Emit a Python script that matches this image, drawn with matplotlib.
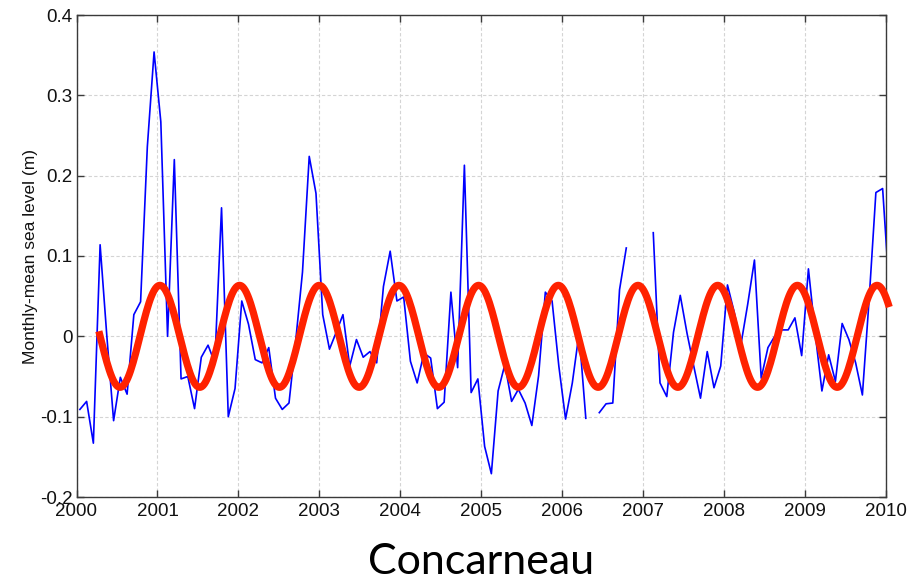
import matplotlib
matplotlib.use("Agg")
import matplotlib.pyplot as plt
import numpy as np

# Monthly-mean sea level at Concarneau, Jan 2000 .. Jan 2010 (m), NaN = missing month
sea_level = [
    -0.091, -0.081, -0.133, 0.114, 0.000, -0.105, -0.051, -0.072, 0.027, 0.043, 0.236, 0.354,   # 2000
    0.267, 0.000, 0.220, -0.053, -0.050, -0.090, -0.026, -0.011, -0.033, 0.160, -0.100, -0.065, # 2001
    0.044, 0.015, -0.029, -0.033, -0.014, -0.077, -0.091, -0.083, -0.005, 0.080, 0.224, 0.178,  # 2002
    0.027, -0.016, 0.005, 0.027, -0.037, -0.004, -0.026, -0.019, -0.033, 0.062, 0.106, 0.044,   # 2003
    0.049, -0.031, -0.058, -0.021, -0.027, -0.090, -0.082, 0.055, -0.039, 0.213, -0.070, -0.053, # 2004
    -0.137, -0.171, -0.068, -0.035, -0.081, -0.066, -0.083, -0.111, -0.049, 0.055, 0.044, -0.037, # 2005
    -0.103, -0.058, 0.004, -0.102, np.nan, -0.095, -0.084, -0.083, 0.058, 0.110, np.nan, np.nan, # 2006
    np.nan, 0.129, -0.058, -0.075, 0.005, 0.051, 0.004, -0.037, -0.077, -0.019, -0.064, -0.037, # 2007
    0.064, 0.030, -0.010, 0.040, 0.095, -0.052, -0.014, 0.000, 0.008, 0.008, 0.023, -0.024,     # 2008
    0.084, 0.004, -0.068, -0.023, -0.056, 0.016, -0.004, -0.033, -0.073, 0.046, 0.179, 0.184,   # 2009
    0.056,                                                                                      # 2010
]
months = np.arange(len(sea_level))
t_month = 2000 + (months + 0.5) / 12

# Fitted annual cycle
fit_amp = 0.0635
fit_period = 0.9844      # years between successive peaks
fit_peak = 2001.03       # time of first peak
fit_start, fit_end = 2000.276, 2010.04

years = list(range(2000, 2011))
yticks = [-0.2, -0.1, 0, 0.1, 0.2, 0.3, 0.4]
ytick_labels = ["-0.2", "-0.1", "0", "0.1", "0.2", "0.3", "0.4"]

plt.rcParams["font.family"] = ["Liberation Sans", "DejaVu Sans"]

fig = plt.figure(figsize=(9.16, 5.81), dpi=100, facecolor="white")
ax = fig.add_axes([76.5 / 916, 1 - 497 / 581, (886 - 76.5) / 916, (497 - 15) / 581])

ax.plot(t_month, sea_level, color="#0000FF", linewidth=1.2, zorder=3)

t_fit = np.linspace(fit_start, fit_end, 600)
y_fit = fit_amp * np.cos(2 * np.pi * (t_fit - fit_peak) / fit_period)
ax.plot(t_fit, y_fit, color="#FF2200", linewidth=5.2, solid_capstyle="butt",
        zorder=4, clip_on=False)

ax.set_xlim(2000, 2010)
ax.set_ylim(-0.2, 0.4)
ax.set_xticks(years)
ax.set_xticklabels([str(y) for y in years])
ax.set_yticks(yticks)
ax.set_yticklabels(ytick_labels)

ax.grid(True, color="#D4D4D4", linestyle=(0, (3, 2)), linewidth=0.8)
ax.set_axisbelow(True)

for side in ax.spines.values():
    side.set_color("#3A3A3A")
    side.set_linewidth(1.0)

ax.tick_params(direction="in", length=5, width=1, color="#3A3A3A",
               top=True, right=True, labelsize=13.5, labelcolor="#111111", pad=3)
ax.tick_params(axis="x", pad=4)

ax.set_ylabel("Monthly-mean sea level (m)", fontsize=12.5, color="#111111", labelpad=1)

# station name under the chart, baseline ~573 px from the top
fig.text(0.525, 1 - 574 / 581, "Concarneau", fontsize=31, color="black",
         ha="center", va="baseline", family=["Lato", "DejaVu Sans"])

fig.savefig("out.png", dpi=100, facecolor="white")
